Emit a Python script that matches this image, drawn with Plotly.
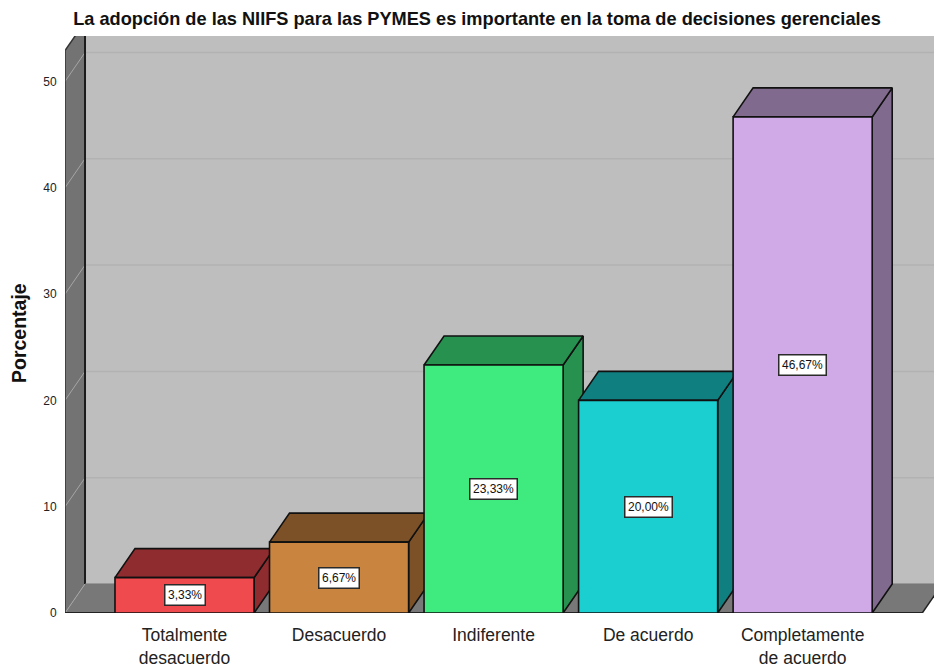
import plotly.graph_objects as go

title = "La adopción de las NIIFS para las PYMES es importante en la toma de decisiones gerenciales"
y_title = "Porcentaje"
categories = ["Totalmente<br>desacuerdo", "Desacuerdo", "Indiferente", "De acuerdo", "Completamente<br>de acuerdo"]
values = [3.33, 6.67, 23.33, 20.00, 46.67]
value_labels = ["3,33%", "6,67%", "23,33%", "20,00%", "46,67%"]
y_ticks = [0, 10, 20, 30, 40, 50]
front_colors = ["#ef4b4e", "#c9843f", "#3fea7e", "#1bcfd1", "#cfaae6"]
side_colors = ["#8f2c2f", "#7c5127", "#279150", "#107f80", "#806a8e"]

# pseudo-3D projection, expressed in axis units
BAR_W = 0.9
DX = 0.1295
DY = 2.73
X_MIN, X_MAX = -0.7735, 4.85
Y_MAX = 54.28
WALL_X = X_MIN
WALL_TOP = 52.9
FLOOR_END = 4.774

FIG_W, FIG_H = 934, 668
M_L, M_T, M_B = 65, 36, 55

fig = go.Figure()


def poly(xs, ys, fill, line="#111111", width=1.6):
    fig.add_trace(go.Scatter(
        x=xs + xs[:1], y=ys + ys[:1], mode="lines", fill="toself", fillcolor=fill,
        line=dict(color=line, width=width), hoverinfo="skip", showlegend=False))


def seg(xs, ys, color, width=1.0):
    fig.add_trace(go.Scatter(
        x=xs, y=ys, mode="lines", line=dict(color=color, width=width),
        hoverinfo="skip", showlegend=False))


# back wall
poly([WALL_X + DX, X_MAX + 1, X_MAX + 1, WALL_X + DX], [DY, DY, WALL_TOP + DY, WALL_TOP + DY], "#bebebe", "#bebebe", 0)
# floor
poly([WALL_X, FLOOR_END, FLOOR_END + DX, WALL_X + DX], [0, 0, DY, DY], "#787878", "#787878", 0)
# side wall
poly([WALL_X, WALL_X + DX, WALL_X + DX, WALL_X], [0, DY, WALL_TOP + DY, WALL_TOP], "#737373", "#737373", 0)
# gridlines
for t in y_ticks:
    if t > 0:
        seg([WALL_X + DX, X_MAX + 1], [t + DY, t + DY], "#b2b2b2", 1.5)
    seg([WALL_X, WALL_X + DX], [t, t + DY], "#a5a5a5", 1.0)
# wall edges
seg([WALL_X + DX, WALL_X + DX], [DY, WALL_TOP + DY], "#1c1c1c", 2)
seg([WALL_X, WALL_X], [0, WALL_TOP], "#333333", 1.5)
seg([WALL_X, WALL_X + DX], [WALL_TOP, WALL_TOP + DY], "#333333", 1.5)
seg([WALL_X + DX, X_MAX + 1], [DY, DY], "#777777", 1)
seg([FLOOR_END, FLOOR_END + DX], [0, DY], "#222222", 1.5)
seg([WALL_X, FLOOR_END], [0, 0], "#222222", 2)

# bars
for i, v in enumerate(values):
    x0, x1 = i - BAR_W / 2, i + BAR_W / 2
    poly([x1, x1 + DX, x1 + DX, x1], [0, DY, v + DY, v], side_colors[i])
    poly([x0, x1, x1 + DX, x0 + DX], [v, v, v + DY, v + DY], side_colors[i])
    poly([x0, x1, x1, x0], [0, 0, v, v], front_colors[i])
    fig.add_annotation(
        x=i, y=v / 2, xref="x", yref="y", text=value_labels[i], showarrow=False,
        font=dict(family="Liberation Sans", size=12, color="#111111"),
        bgcolor="#ffffff", bordercolor="#2a2a2a", borderwidth=1.5, borderpad=2.5)

fig.add_annotation(
    x=(19 - 65) / 869, y=(613 - 333) / 577, xref="paper", yref="paper", text="<b>" + y_title + "</b>",
    xanchor="center", yanchor="middle",
    textangle=-90, showarrow=False, font=dict(family="Liberation Sans", size=19.5, color="#111111"))

fig.update_layout(
    width=FIG_W, height=FIG_H, autosize=False,
    paper_bgcolor="#ffffff", plot_bgcolor="#ffffff",
    margin=dict(l=M_L, r=0, t=M_T, b=M_B),
    showlegend=False,
    title=dict(text="<b>" + title + "</b>", x=477 / FIG_W, xanchor="center", xref="container",
               y=1 - 19 / FIG_H, yanchor="middle",
               font=dict(family="Liberation Sans", size=18.2, color="#111111")),
    xaxis=dict(range=[X_MIN, X_MAX], tickmode="array", tickvals=list(range(len(categories))),
               ticktext=categories, showgrid=False, zeroline=False, showline=False,
               ticks="outside", ticklen=6, tickcolor="rgba(0,0,0,0)", tickangle=0,
               tickfont=dict(family="Liberation Sans", size=17.5, color="#222222")),
    yaxis=dict(range=[0, Y_MAX], tickmode="array", tickvals=y_ticks, showgrid=False,
               zeroline=False, showline=False, ticks="outside", ticklen=5,
               tickcolor="rgba(0,0,0,0)",
               tickfont=dict(family="Liberation Sans", size=12, color="#222222")),
)

# remove the page's default body margin so the 934x668 figure fills the window
fig.write_html("out.html", config={"displayModeBar": False},
               post_script="document.body.style.margin='0';document.documentElement.style.overflow='hidden';")
